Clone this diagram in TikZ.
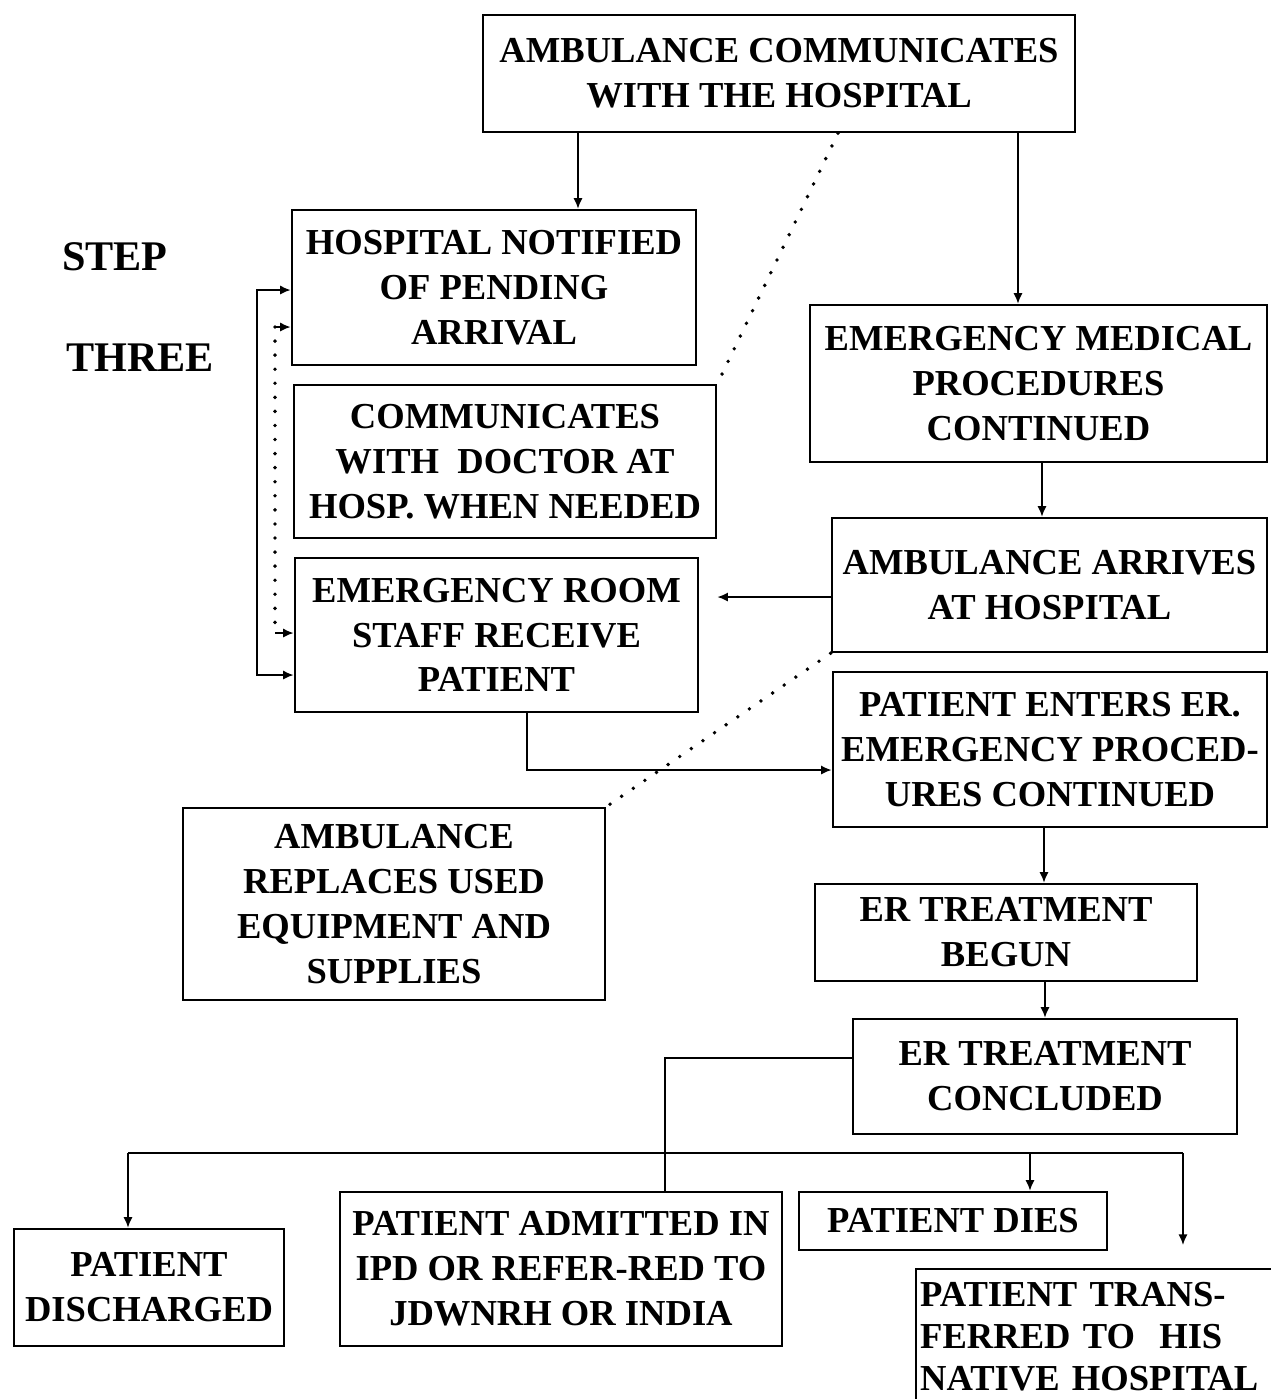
\documentclass[tikz,border=0pt]{standalone}
\usepackage{fontspec}
\setmainfont{Liberation Serif}
\usetikzlibrary{arrows.meta}
\usetikzlibrary{positioning}
\tikzstyle{stepbox} = [rectangle, draw=black, line width=0.7pt, inner sep=0pt, align=center, font=\bfseries\fontsize{10.4}{12.75}\selectfont]
\tikzstyle{arr} = [line width=0.5pt, -{Latex[length=3pt,width=2.6pt]}]
\tikzstyle{dots} = [line width=1.1pt, line cap=round, dash pattern=on 0pt off 4pt]

\begin{document}
\begin{tikzpicture}[x=0.01cm, y=-0.01cm]
\useasboundingbox (0,0) rectangle (1271,1399);
\clip (0,0) rectangle (1271,1399);

\node (step) [font=\bfseries\fontsize{12}{14}\selectfont] at (115,257) {STEP};
\node (three) [font=\bfseries\fontsize{12}{14}\selectfont] at (140,358) {THREE};

\node (amb) [stepbox, minimum width=5.92cm, minimum height=1.17cm] at (779,73.5) {AMBULANCE COMMUNICATES\\WITH THE HOSPITAL};
\node (notify) [stepbox, minimum width=4.04cm, minimum height=1.55cm] at (494,287.5) {HOSPITAL NOTIFIED\\OF PENDING\\ARRIVAL};
\node (comm) [stepbox, minimum width=4.22cm, minimum height=1.53cm] at (505,461.5) {COMMUNICATES\\WITH\ \ DOCTOR AT\\HOSP. WHEN NEEDED};
\node (erstaff) [stepbox, minimum width=4.03cm, minimum height=1.54cm] at (496.5,635) {EMERGENCY ROOM\\STAFF RECEIVE\\PATIENT};
\node (emp) [stepbox, minimum width=4.57cm, minimum height=1.57cm] at (1038.5,383.5) {EMERGENCY MEDICAL\\PROCEDURES\\CONTINUED};
\node (arrives) [stepbox, minimum width=4.35cm, minimum height=1.34cm] at (1049.5,585) {AMBULANCE ARRIVES\\AT HOSPITAL};
\node (enters) [stepbox, minimum width=4.34cm, minimum height=1.55cm] at (1050,749.5) {PATIENT ENTERS ER.\\EMERGENCY PROCED-\\URES CONTINUED};
\node (replaces) [stepbox, minimum width=4.22cm, minimum height=1.92cm] at (394,904) {AMBULANCE\\REPLACES USED\\EQUIPMENT AND\\SUPPLIES};
\node (begun) [stepbox, minimum width=3.82cm, minimum height=0.97cm] at (1006,932.5) {ER TREATMENT\\BEGUN};
\node (concl) [stepbox, minimum width=3.84cm, minimum height=1.15cm] at (1045,1076.5) {ER TREATMENT\\CONCLUDED};
\node (disch) [stepbox, minimum width=2.70cm, minimum height=1.17cm] at (149,1287.5) {PATIENT\\DISCHARGED};
\node (admit) [stepbox, minimum width=4.42cm, minimum height=1.54cm] at (561,1269) {PATIENT ADMITTED IN\\IPD OR REFER-RED TO\\JDWNRH OR INDIA};
\node (dies) [stepbox, minimum width=3.08cm, minimum height=0.58cm] at (953,1221) {PATIENT DIES};
\node (transf) [stepbox, anchor=north west, align=left, text width=3.7cm, inner xsep=0.04cm, minimum height=1.35cm, font=\bfseries\fontsize{10.4}{12}\selectfont] at (915,1268) {PATIENT TRANS-\\FERRED TO\ \ HIS\\NATIVE HOSPITAL};

% top of the chart
\draw[arr] (amb.south -| 578,0) -- (notify.north -| 578,0);
\draw[arr] (amb.south -| 1018,0) -- (emp.north -| 1018,0);
\draw[dots] (amb.south -| 838,0) -- (comm.north east);

% left loop
\draw[line width=0.5pt, {Latex[length=3pt,width=2.6pt]}-{Latex[length=3pt,width=2.6pt]}] (notify.west |- 0,290) -- ++(-34,0) |- (erstaff.west |- 0,675);
\coordinate (dtop) at (275,327);
\coordinate (dbot) at (275,633);
\draw[dots] (dtop) -- (dbot);
\draw[arr] (dtop) -- (notify.west |- dtop);
\draw[arr] (dbot) -- (erstaff.west |- dbot);

% right column
\draw[arr] (emp.south -| 1042,0) -- (arrives.north -| 1042,0);
\draw[arr, shorten >=0.18cm] (arrives.west |- 0,597) -- (erstaff.east |- 0,597);
\draw[arr] (erstaff.south -| 527,0) |- (enters.west |- 0,770);
\draw[dots] (arrives.south west) -- (replaces.north east);
\draw[arr] (enters.south -| 1044,0) -- (begun.north -| 1044,0);
\draw[arr] (begun.south -| 1045,0) -- (concl.north -| 1045,0);

% outcomes
\coordinate (busL) at (128,1153);
\coordinate (busR) at (1183,1153);
\draw[line width=0.5pt] (concl.west |- 0,1058) -| (admit.north -| 665,0);
\draw[line width=0.5pt] (busL) -- (busR);
\draw[arr] (busL) -- (disch.north -| busL);
\draw[arr] (busL -| 1030,0) -- (dies.north -| 1030,0);
\draw[arr, shorten >=0.23cm] (busR) -- (transf.north -| busR);
\end{tikzpicture}
\end{document}
